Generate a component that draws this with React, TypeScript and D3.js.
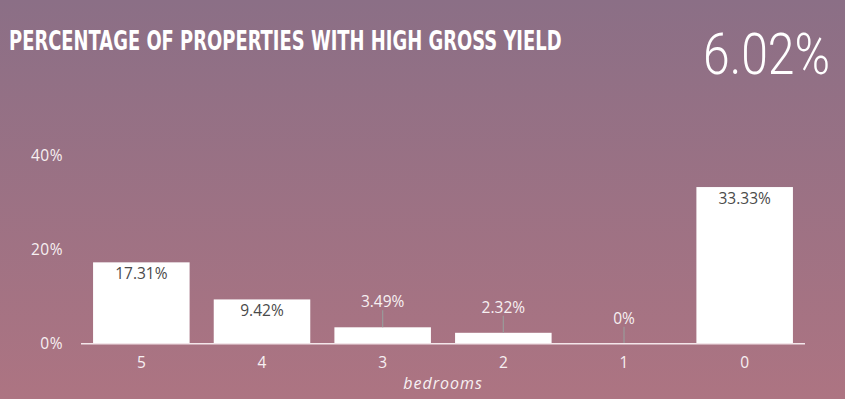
import React, { useRef, useLayoutEffect, useState } from "react";
import { scaleBand, scaleLinear } from "d3";

// bedroom counts, left to right as in the chart
const categories = ["5", "4", "3", "2", "1", "0"];
const values = [17.31, 9.42, 3.49, 2.32, 0, 33.33];
const valueLabels = ["17.31%", "9.42%", "3.49%", "2.32%", "0%", "33.33%"];
const yTicks = [0, 20, 40];
const headline = "PERCENTAGE OF PROPERTIES WITH HIGH GROSS YIELD";
const bigNumber = "6.02%";
const xTitle = "bedrooms";

const W = 845;
const H = 399;
const font = "'Open Sans', 'Noto Sans', sans-serif";
const condensed = "'DejaVu Sans Condensed', 'DejaVu Sans', sans-serif";

// squeezes a text horizontally so it fills the given width
const Squeezed = ({ x, y, width, text, ...rest }: any) => {
  const ref = useRef<SVGTextElement>(null);
  const [sx, setSx] = useState(1);
  useLayoutEffect(() => {
    if (ref.current) {
      const w = ref.current.getComputedTextLength();
      if (w > 0) setSx(width / w);
    }
  }, [text, width]);
  return (
    <g transform={`translate(${x},${y}) scale(${sx},1)`}>
      <text ref={ref} x={0} y={0} {...rest}>
        {text}
      </text>
    </g>
  );
};

const App = () => {
  const xScale = scaleBand<string>().domain(categories).range([81, 805]).paddingInner(0.2).paddingOuter(0.1);
  const yScale = scaleLinear().domain([0, 40]).range([343.7, 155.7]);
  const base = yScale(0);
  const labelColor = "#f7f0f2";

  return (
    <div style={{ position: "fixed", left: 0, top: 0 }}>
      <svg width={W} height={H} style={{ display: "block" }}>
        <defs>
          <linearGradient id="bg" x1="0" y1="0" x2="0" y2="1">
            <stop offset="0%" stopColor="#8b6f86" />
            <stop offset="100%" stopColor="#ad7482" />
          </linearGradient>
        </defs>
        <rect width={W} height={H} fill="url(#bg)" />

        <Squeezed x={9} y={50} width={553} text={headline} fill="#fff" fontFamily={condensed}
          fontWeight="bold" fontSize={27} />
        <Squeezed x={703} y={74} width={127} text={bigNumber} fill="#fff" fontFamily="Roboto, sans-serif"
          fontWeight={300} fontSize={58} />

        {/* y axis labels */}
        {yTicks.map((t) => (
          <text key={t} x={63} y={yScale(t) + 5.5} textAnchor="end" fill={labelColor}
            fontFamily={font} fontSize={15.5} letterSpacing={0.5}>
            {t}%
          </text>
        ))}

        {/* bars */}
        {values.map((v, i) => {
          const x = xScale(categories[i])!;
          const bw = xScale.bandwidth();
          const top = yScale(v);
          const inside = base - top > 30;
          const cx = x + bw / 2;
          return (
            <g key={categories[i]}>
              <rect x={x} y={top} width={bw} height={base - top} fill="#fff" />
              {inside ? (
                <text x={cx} y={top + 17} textAnchor="middle" fill="#4a4a4a"
                  fontFamily={font} fontSize={15.5}>
                  {valueLabels[i]}
                </text>
              ) : (
                <>
                  <line x1={cx} x2={cx} y1={top - 17} y2={top} stroke="#9a9a9a" strokeWidth={1.2} />
                  <text x={cx} y={top - 20} textAnchor="middle" fill={labelColor}
                    fontFamily={font} fontSize={15.5}>
                    {valueLabels[i]}
                  </text>
                </>
              )}
            </g>
          );
        })}

        {/* x axis */}
        <line x1={81} x2={805} y1={base} y2={base} stroke="#f3e6ea" strokeWidth={1.5} />
        {categories.map((c) => (
          <text key={c} x={xScale(c)! + xScale.bandwidth() / 2} y={367.5} textAnchor="middle"
            fill={labelColor} fontFamily={font} fontSize={15.5}>
            {c}
          </text>
        ))}
        <text x={443} y={389} textAnchor="middle" fill={labelColor} fontFamily={font}
          fontStyle="italic" fontSize={16} letterSpacing={1}>
          {xTitle}
        </text>
      </svg>
    </div>
  );
};

export default App;
